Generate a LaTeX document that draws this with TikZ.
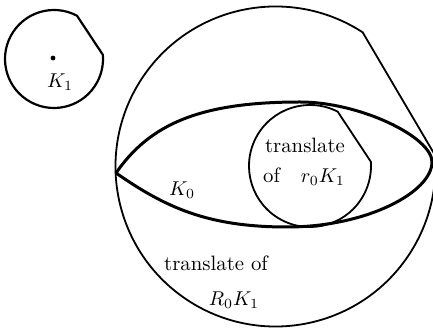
\documentclass[tikz,border=0pt]{standalone}
\usepackage{amsmath}
\usetikzlibrary{calc}
\tikzset{
  cutline/.style ={draw=black,line width=0.9pt,line join=miter},
  smline/.style  ={cutline,line width=1.1pt},
  kzline/.style  ={draw=black,line width=1.5pt,line cap=round},
  flab/.style    ={inner sep=1pt,font=\fontsize{10.4}{12}\selectfont},
  cdot/.style    ={circle,draw=none,fill=black,inner sep=0pt,minimum size=2.4pt},
}
% disk with a cap cut off along the chord from angle #5 to angle #6
\newcommand{\cutdisk}[6][cutline]{%
  \draw[#1] ($(#2,#3)+(#6:#4)$) arc[start angle=#6, end angle=360+#5, radius=#4] -- cycle;}
\begin{document}
\begin{tikzpicture}[x=0.5pt,y=0.5pt]
  \useasboundingbox (0,0) rectangle (433,331);
  \begin{scope}
    \clip (0,0) rectangle (433,331);
    \cutdisk[smline]{54}{272}{49}{5}{62}
    \cutdisk{275.5}{164.5}{160}{4}{57}
    \cutdisk{310}{165}{61}{4}{63}
    % K_0, pointed at its left end
    \draw[kzline] (116,158) .. controls (150,207) and (200,229) .. (300,229)
                  .. controls (360,229) and (432,194) .. (432,169)
                  .. controls (432,139) and (367,104) .. (287,104)
                  .. controls (207,104) and (165,124) .. (116,158);
  \end{scope}
  \node[cdot] (ctr) at (53,273) {};
  \node[flab] (kone) at (60,249) {$K_1$};
  \node[flab] (kzero) at (182,141) {$K_0$};
  \node[flab] (trA) at (305,186) {translate};
  \node[flab] (trB) at (304,154) {of\quad$r_0K_1$};
  \node[flab] (trC) at (216,68) {translate of};
  \node[flab] (trD) at (234,31) {$R_0K_1$};
\end{tikzpicture}
\end{document}
